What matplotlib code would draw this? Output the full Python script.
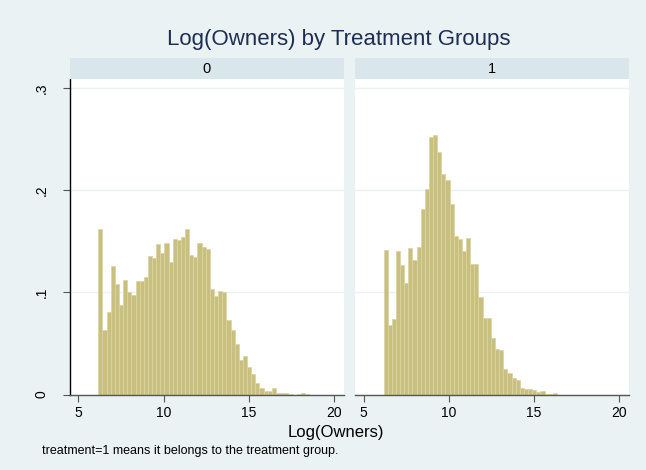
import numpy as np
import matplotlib
matplotlib.use("Agg")
import matplotlib.pyplot as plt

plt.rcParams['font.family'] = ['Liberation Sans', 'DejaVu Sans']

# histogram densities, one value per bin (shared bins for both groups)
bin_start = 6.17
bin_width = 0.242
density_control = [0.162, 0.063, 0.081, 0.126, 0.108, 0.088, 0.112, 0.100, 0.098, 0.111,
                   0.111, 0.115, 0.136, 0.134, 0.147, 0.139, 0.148, 0.130, 0.152, 0.151,
                   0.154, 0.162, 0.137, 0.135, 0.148, 0.145, 0.143, 0.103, 0.097, 0.101,
                   0.100, 0.0735, 0.063, 0.050, 0.034, 0.038, 0.027, 0.020, 0.011, 0.006,
                   0.004, 0.004, 0.006, 0.0015, 0.0012, 0.0012, 0.0005, 0.0, 0.0005, 0.0012,
                   0.0008]
density_treated = [0.142, 0.068, 0.074, 0.141, 0.127, 0.109, 0.144, 0.132, 0.145, 0.182,
                   0.201, 0.252, 0.254, 0.238, 0.216, 0.210, 0.187, 0.155, 0.152, 0.141,
                   0.153, 0.128, 0.128, 0.096, 0.075, 0.075, 0.055, 0.045, 0.044, 0.025,
                   0.021, 0.0166, 0.014, 0.0068, 0.005, 0.005, 0.0049, 0.0026, 0.0033, 0.001,
                   0.0007, 0.0013]
groups = ['0', '1']
xticks = [5, 10, 15, 20]
yticks = [0, 0.1, 0.2, 0.3]
ytick_labels = ['0', '.1', '.2', '.3']

BG = '#EAF2F3'
STRIP = '#D9E6EB'
BAR = '#C9C07F'
BAR_EDGE = '#DAD4A3'

W, H = 646, 470
fig = plt.figure(figsize=(W / 100, H / 100), dpi=100, facecolor=BG)


def px(x0, y0, x1, y1):
    # pixel box (top-left origin) -> figure fraction rect
    return [x0 / W, 1 - y1 / H, (x1 - x0) / W, (y1 - y0) / H]


panels = [(69.5, 344.0), (354.7, 629.0)]
for i, (dens, label, (xl, xr)) in enumerate(zip([density_control, density_treated], groups, panels)):
    ax = fig.add_axes(px(xl, 79.0, xr, 394.6))
    ax.set_facecolor('white')
    left = bin_start + bin_width * np.arange(len(dens))
    ax.bar(left, dens, width=bin_width, align='edge', color=BAR,
           edgecolor=BAR_EDGE, linewidth=0.5, zorder=2)
    ax.set_xlim(4.48, 20.56)
    ax.set_ylim(0, 0.309)
    ax.set_yticks(yticks)
    ax.grid(axis='y', color=BG, linewidth=1.0, zorder=0)
    ax.set_xticks(xticks)
    ax.set_xticklabels([str(t) for t in xticks], fontsize=10)
    ax.tick_params(axis='x', length=5, width=0.8, color='#555555', pad=3)
    for side in ['top', 'right']:
        ax.spines[side].set_visible(False)
    ax.spines['bottom'].set_color('#555555')
    ax.spines['bottom'].set_linewidth(1.0)
    if i == 0:
        ax.set_yticklabels(ytick_labels, fontsize=10, rotation=90, va='center')
        ax.tick_params(axis='y', length=5, width=0.8, color='#555555', pad=10)
        ax.spines['left'].set_color('black')
        ax.spines['left'].set_linewidth(1.0)
    else:
        ax.spines['left'].set_visible(False)
        ax.tick_params(axis='y', length=0, labelleft=False)

    # facet strip
    sax = fig.add_axes(px(xl, 58.3, xr, 79.0))
    sax.set_facecolor(STRIP)
    sax.set_xticks([])
    sax.set_yticks([])
    for sp in sax.spines.values():
        sp.set_visible(False)
    sax.text(0.5, 0.5, label, ha='center', va='center', fontsize=10.5,
             transform=sax.transAxes)

fig.text(339 / W, 1 - 45 / H, 'Log(Owners) by Treatment Groups', ha='center',
         va='baseline', fontsize=16, color='#1E2D53')
fig.text(336 / W, 1 - 437 / H, 'Log(Owners)', ha='center', va='baseline', fontsize=12)
fig.text(42 / W, 1 - 454 / H, 'treatment=1 means it belongs to the treatment group.',
         ha='left', va='baseline', fontsize=9)

fig.savefig('out.png', dpi=100, facecolor=BG)
